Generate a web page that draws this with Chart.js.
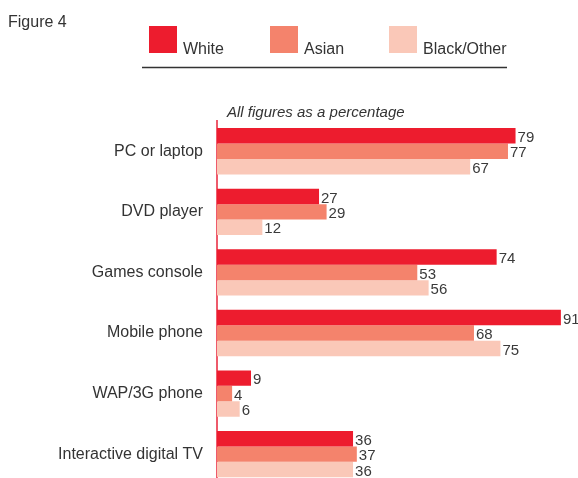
<!DOCTYPE html>
<html>
<head>
<meta charset="utf-8">
<script src="https://cdn.jsdelivr.net/npm/chart.js@4.4.1/dist/chart.umd.min.js"></script>
<style>
  html, body { margin: 0; padding: 0; background: #fff; overflow: hidden; width: 578px; height: 478px; }
  #wrap { position: relative; width: 578px; height: 508px; }
</style>
</head>
<body>
<div id="wrap"><canvas id="c" width="578" height="508"></canvas></div>
<script>
const figureTitle = "Figure 4";
const subtitle = "All figures as a percentage";
const categories = ["PC or laptop", "DVD player", "Games console", "Mobile phone", "WAP/3G phone", "Interactive digital TV"];
const seriesNames = ["White", "Asian", "Black/Other"];
const whiteValues = [79, 27, 74, 91, 9, 36];
const asianValues = [77, 29, 53, 68, 4, 37];
const blackOtherValues = [67, 12, 56, 75, 6, 36];
const seriesColors = ["#ED1C2E", "#F4836C", "#FAC8B8"];

const FONT = "'Liberation Sans', Arial, sans-serif";
const TEXT = "#333333";

const decorPlugin = {
  id: 'decor',
  afterDraw(chart) {
    const ctx = chart.ctx;
    ctx.save();
    ctx.fillStyle = TEXT;
    ctx.font = "16px " + FONT;
    ctx.textAlign = "left";
    ctx.textBaseline = "alphabetic";
    ctx.fillText(figureTitle, 8, 27);
    const boxX = [149, 270, 389];
    chart.data.datasets.forEach((ds, i) => {
      ctx.fillStyle = ds.backgroundColor;
      ctx.fillRect(boxX[i], 26, 28, 27);
      ctx.fillStyle = TEXT;
      ctx.font = "16px " + FONT;
      ctx.fillText(ds.label, boxX[i] + 34, 54);
    });
    ctx.strokeStyle = "#333";
    ctx.lineWidth = 1.5;
    ctx.beginPath();
    ctx.moveTo(142, 67.5);
    ctx.lineTo(507, 67.5);
    ctx.stroke();
    ctx.fillStyle = TEXT;
    ctx.font = "italic 15px " + FONT;
    ctx.fillText(subtitle, 227, 117);
    ctx.font = "15px " + FONT;
    ctx.fillStyle = "#3a3a3a";
    ctx.textBaseline = "middle";
    chart.data.datasets.forEach((ds, i) => {
      const meta = chart.getDatasetMeta(i);
      meta.data.forEach((bar, j) => {
        ctx.fillText(String(ds.data[j]), bar.x + 2, bar.y + 2);
      });
    });
    ctx.restore();
  }
};

new Chart(document.getElementById('c'), {
  type: 'bar',
  data: {
    labels: categories,
    datasets: [
      { label: seriesNames[0], data: whiteValues, backgroundColor: seriesColors[0] },
      { label: seriesNames[1], data: asianValues, backgroundColor: seriesColors[1] },
      { label: seriesNames[2], data: blackOtherValues, backgroundColor: seriesColors[2] }
    ]
  },
  options: {
    indexAxis: 'y',
    responsive: false,
    animation: false,
    devicePixelRatio: 1,
    layout: { padding: { top: 121, right: 2, left: 0, bottom: 0 } },
    datasets: { bar: { categoryPercentage: 0.765, barPercentage: 1.0, borderWidth: 0 } },
    plugins: { legend: { display: false }, title: { display: false }, tooltip: { enabled: false } },
    scales: {
      x: { display: false, min: 0, max: 95 },
      y: {
        afterFit(scale) { scale.width = 217; },
        grid: { display: false, drawTicks: false },
        border: { display: true, color: "#EE5A6B", width: 2 },
        ticks: { color: TEXT, font: { family: FONT, size: 16 }, padding: 14 }
      }
    }
  },
  plugins: [decorPlugin]
});
</script>
</body>
</html>
